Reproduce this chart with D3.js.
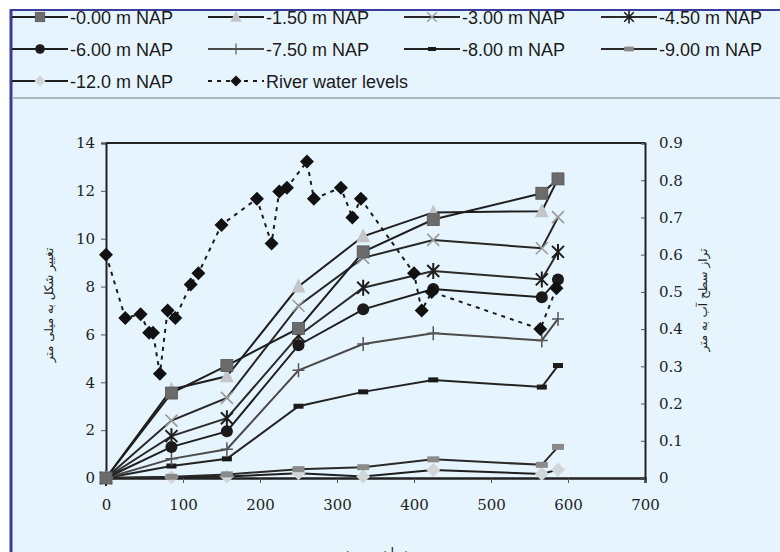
<!DOCTYPE html>
<meta charset="utf-8">
<script src="https://d3js.org/d3.v7.min.js"></script>
<style>
  body { margin: 0; background: #fff; }
</style>
<div id="my_dataviz"></div>
<script>

// days at which deformation was measured
var days = [0, 85, 157, 250, 334, 425, 566, 587];

// deformation (mm) per depth
var depthNames = ["-0.00 m NAP", "-1.50 m NAP", "-3.00 m NAP", "-4.50 m NAP",
                  "-6.00 m NAP", "-7.50 m NAP", "-8.00 m NAP", "-9.00 m NAP", "-12.0 m NAP"];
var d000  = [0, 3.55, 4.7, 6.25, 9.45, 10.8, 11.9, 12.5];
var d150  = [0, 3.7, 4.25, 8.0, 10.1, 11.1, 11.15, 12.5];
var d300  = [0, 2.4, 3.35, 7.2, 9.2, 9.95, 9.6, 10.9];
var d450  = [0, 1.75, 2.5, 5.95, 7.95, 8.65, 8.3, 9.45];
var d600  = [0, 1.3, 1.95, 5.55, 7.05, 7.9, 7.55, 8.3];
var d750  = [0, 0.8, 1.2, 4.5, 5.6, 6.05, 5.75, 6.65];
var d800  = [0, 0.5, 0.8, 3.0, 3.6, 4.1, 3.8, 4.7];
var d900  = [0, 0.05, 0.15, 0.37, 0.45, 0.78, 0.55, 1.3];
var d1200 = [0, 0.03, 0.06, 0.2, 0.06, 0.33, 0.17, 0.35];

// river water levels (m)
var riverDays   = [0, 25, 45, 56, 61, 70, 80, 90, 110, 120, 150, 196, 215, 225, 235, 261, 270, 305, 320, 331, 400, 410, 423, 564, 585];
var riverLevels = [0.60, 0.43, 0.44, 0.39, 0.39, 0.28, 0.45, 0.43, 0.52, 0.55, 0.68, 0.75, 0.63, 0.77, 0.78, 0.85, 0.75, 0.78, 0.70, 0.75, 0.55, 0.45, 0.50, 0.40, 0.51];

var xTicks = [0, 100, 200, 300, 400, 500, 600, 700];
var yTicks = [0, 2, 4, 6, 8, 10, 12, 14];
var y2Ticks = [0, 0.1, 0.2, 0.3, 0.4, 0.5, 0.6, 0.7, 0.8, 0.9];

var W = 780, H = 552;
var margin = {top: 143, right: 135, bottom: 74, left: 106};

var svg = d3.select("#my_dataviz").append("svg")
  .attr("width", W).attr("height", H)
  .style("display", "block");

// background panel with blue frame
svg.append("rect").attr("x", 11).attr("y", 10).attr("width", W - 11).attr("height", H - 10)
  .attr("fill", "#e6f5fd");
svg.append("line").attr("x1", 11).attr("x2", 11).attr("y1", 9).attr("y2", H)
  .attr("stroke", "#3a3c9c").attr("stroke-width", 3);
svg.append("line").attr("x1", 10).attr("x2", W).attr("y1", 10).attr("y2", 10)
  .attr("stroke", "#3a3c9c").attr("stroke-width", 2);
svg.append("line").attr("x1", 12).attr("x2", W).attr("y1", 98).attr("y2", 98)
  .attr("stroke", "#9aa3aa").attr("stroke-width", 1.5);

var x = d3.scaleLinear().domain([0, 700]).range([margin.left, W - margin.right]);
var y = d3.scaleLinear().domain([0, 14]).range([H - margin.bottom, margin.top]);
var y2 = d3.scaleLinear().domain([0, 0.9]).range([H - margin.bottom, margin.top]);

// frame top
svg.append("line").attr("x1", x(0)).attr("x2", x(700)).attr("y1", y(14)).attr("y2", y(14))
  .attr("stroke", "#222").attr("stroke-width", 2);

// axes
var xAxis = svg.append("g").attr("transform", "translate(0," + y(0) + ")")
  .call(d3.axisBottom(x).tickValues(xTicks).tickSize(5).tickPadding(16));
var yAxis = svg.append("g").attr("transform", "translate(" + x(0) + ",0)")
  .call(d3.axisLeft(y).tickValues(yTicks).tickSize(5).tickPadding(6));
var y2Axis = svg.append("g").attr("transform", "translate(" + x(700) + ",0)")
  .call(d3.axisRight(y2).tickValues(y2Ticks).tickSize(-4).tickPadding(14)
        .tickFormat(function(d) { return d === 0 ? "0" : d3.format(".1f")(d); }));

var serif = "'DejaVu Serif', 'Liberation Serif', serif";
[xAxis, yAxis, y2Axis].forEach(function(a) {
  a.attr("font-family", serif).attr("font-size", 15);
  a.select(".domain").attr("stroke", "#222").attr("stroke-width", 2);
  a.selectAll(".tick line").attr("stroke", "#555").attr("stroke-width", 1);
  a.selectAll(".tick text").style("font-family", serif).style("font-size", "15px").attr("fill", "#222");
});
xAxis.select(".domain").attr("stroke-width", 2.5);

// axis titles
var fa = "'DejaVu Sans', sans-serif";
svg.append("text")
  .attr("transform", "translate(53," + 305 + ") rotate(-90)")
  .attr("text-anchor", "middle").attr("font-family", fa)
  .attr("font-size", 12).attr("fill", "#222")
  .text("تغییر شکل به میلی متر");
svg.append("text")
  .attr("transform", "translate(707," + 300 + ") rotate(-90)")
  .attr("text-anchor", "middle").attr("font-family", fa)
  .attr("font-size", 12).attr("fill", "#222")
  .text("تراز سطح آب به متر");
svg.append("text")
  .attr("x", x(350)).attr("y", 557)
  .attr("text-anchor", "middle").attr("font-family", fa)
  .attr("font-size", 13).attr("fill", "#222")
  .text("زمان به روز");

// marker drawing
function marker(g, type, cx, cy, s) {
  s = s || 1;
  var m = g.append("g").attr("transform", "translate(" + cx + "," + cy + ") scale(" + s + ")");
  if (type === "square") {
    m.append("rect").attr("x", -6).attr("y", -6).attr("width", 12).attr("height", 12)
      .attr("fill", "#6b6b6b").attr("stroke", "#555").attr("stroke-width", 0.8);
  } else if (type === "triangle") {
    m.append("path").attr("d", "M0,-8L7,6L-7,6Z").attr("fill", "#c2c6c8");
  } else if (type === "x") {
    m.append("path").attr("d", "M-6,-6L6,6M-6,6L6,-6").attr("stroke", "#9a9a9a").attr("stroke-width", 1.6);
  } else if (type === "star") {
    m.append("path").attr("d", "M-6,-6L6,6M-6,6L6,-6M0,-8L0,8")
      .attr("stroke", "#1e1e1e").attr("stroke-width", 2);
  } else if (type === "circle") {
    m.append("circle").attr("r", 6).attr("fill", "#1a1a1a");
  } else if (type === "plus") {
    m.append("path").attr("d", "M-6,0L6,0M0,-7L0,7").attr("stroke", "#555").attr("stroke-width", 1.5);
  } else if (type === "bar") {
    m.append("rect").attr("x", -5).attr("y", -2.5).attr("width", 10).attr("height", 5).attr("fill", "#1a1a1a");
  } else if (type === "greybar") {
    m.append("rect").attr("x", -6).attr("y", -3).attr("width", 12).attr("height", 6).attr("fill", "#8a8a8a");
  } else if (type === "ldiamond") {
    m.append("path").attr("d", "M0,-7L7,0L0,7L-7,0Z").attr("fill", "#d2d6d8");
  } else if (type === "diamond") {
    m.append("path").attr("d", "M0,-7L7,0L0,7L-7,0Z").attr("fill", "#111");
  }
}

var seriesData  = [d000, d150, d300, d450, d600, d750, d800, d900, d1200];
var seriesMark  = ["square", "triangle", "x", "star", "circle", "plus", "bar", "greybar", "ldiamond"];
var seriesColor = ["#1e1e1e", "#1e1e1e", "#262626", "#2a2a2a", "#1e1e1e", "#4a4a4a", "#222", "#2a2a2a", "#1e1e1e"];

var line = d3.line().x(function(d) { return x(d[0]); }).y(function(d) { return y(d[1]); });
var plot = svg.append("g");

// draw from deepest to shallowest so top series markers sit on top
for (var i = seriesData.length - 1; i >= 0; i--) {
  var pts = days.map(function(dd, k) { return [dd, seriesData[i][k]]; });
  plot.append("path").datum(pts).attr("d", line)
    .attr("fill", "none").attr("stroke", seriesColor[i]).attr("stroke-width", 2);
}
for (var i = seriesData.length - 1; i >= 0; i--) {
  days.forEach(function(dd, k) {
    marker(plot, seriesMark[i], x(dd), y(seriesData[i][k]));
  });
}

// river water levels
var rline = d3.line().x(function(d) { return x(d[0]); }).y(function(d) { return y2(d[1]); });
var rpts = riverDays.map(function(dd, k) { return [dd, riverLevels[k]]; });
plot.append("path").datum(rpts).attr("d", rline)
  .attr("fill", "none").attr("stroke", "#1a1a1a").attr("stroke-width", 2)
  .attr("stroke-dasharray", "4,5");
rpts.forEach(function(p) { marker(plot, "diamond", x(p[0]), y2(p[1])); });

// legend
var legendNames = depthNames.concat(["River water levels"]);
var legendMark = seriesMark.concat(["diamond"]);
var colX = [12, 208, 404, 601];
var rowY = [17, 49, 81];
var legend = svg.append("g");
legendNames.forEach(function(name, i) {
  var cx = colX[i % 4], cy = rowY[Math.floor(i / 4)];
  var ln = legend.append("line").attr("x1", cx).attr("x2", cx + 56).attr("y1", cy).attr("y2", cy)
    .attr("stroke", i < 9 ? seriesColor[i] : "#1a1a1a").attr("stroke-width", 2);
  if (i === 9) ln.attr("stroke-dasharray", "4,5");
  marker(legend, legendMark[i], cx + 28, cy, 0.8);
  legend.append("text").attr("x", cx + 58).attr("y", cy + 6.5)
    .attr("font-family", "'Liberation Sans', Arial, sans-serif").attr("font-size", 18)
    .attr("fill", "#1a1a1a").text(name);
});

</script>
